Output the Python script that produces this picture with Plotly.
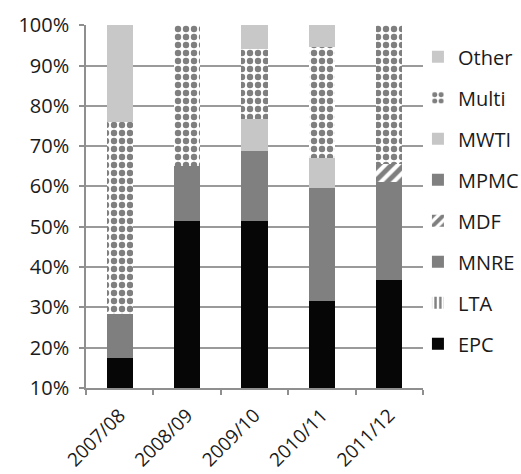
import plotly.graph_objects as go

years = ["2007/08", "2008/09", "2009/10", "2010/11", "2011/12"]
series_names = ["EPC", "LTA", "MNRE", "MDF", "MPMC", "MWTI", "Multi", "Other"]
EPC   = [0.175, 0.514, 0.515, 0.316, 0.368]
LTA   = [0.0, 0.0, 0.0, 0.0, 0.0]
MNRE  = [0.108, 0.137, 0.0, 0.0, 0.243]
MDF   = [0.0, 0.0, 0.0, 0.0, 0.044]
MPMC  = [0.0, 0.0, 0.173, 0.281, 0.0]
MWTI  = [0.0, 0.0, 0.080, 0.074, 0.0]
Multi = [0.476, 0.349, 0.172, 0.275, 0.345]
Other = [0.241, 0.0, 0.060, 0.054, 0.0]
values = [EPC, LTA, MNRE, MDF, MPMC, MWTI, Multi, Other]

styles = {
    "EPC":   dict(color="#050605"),
    "LTA":   dict(color="white", pattern=dict(shape="|", fgcolor="black", bgcolor="white", size=6, solidity=0.5, fillmode="overlay")),
    "MNRE":  dict(color="#7f7f7f"),
    "MDF":   dict(color="white", pattern=dict(shape="/", fgcolor="black", bgcolor="white", size=9, solidity=0.55, fillmode="overlay")),
    "MPMC":  dict(color="#808080"),
    "MWTI":  dict(color="#c5c6c5"),
    "Multi": dict(color="white", pattern=dict(shape=".", fgcolor="black", bgcolor="white", size=8, solidity=0.5, fillmode="overlay")),
    "Other": dict(color="#c8c8c8"),
}

FONT = "Open Sans"
fig = go.Figure()
n = len(series_names)
for i, (name, vals) in enumerate(zip(series_names, values)):
    fig.add_trace(go.Bar(
        x=years, y=vals, name=name, legendgroup=name, legendrank=n - i,
        marker=dict(line=dict(width=0), **styles[name]),
        width=0.39,
    ))

fig.update_layout(
    barmode="stack",
    width=521, height=474,
    margin=dict(l=86, r=98, t=25, b=86, autoexpand=False),
    plot_bgcolor="white", paper_bgcolor="white",
    font=dict(family=FONT, size=20, color="#1a1a1a"),
    showlegend=True,
    legend=dict(
        x=0.985, xanchor="left",
        y=0.966, yanchor="top",
        traceorder="grouped",
        tracegroupgap=12,
        font=dict(family=FONT, size=20, color="#1a1a1a"),
        bgcolor="rgba(0,0,0,0)",
        itemclick=False,
    ),
)
fig.update_xaxes(
    type="category", automargin=False,
    showline=True, linecolor="#8f8f8f", linewidth=1.5,
    ticks="outside", tickson="boundaries", ticklen=5, tickcolor="#8f8f8f", tickwidth=1.5,
    tickangle=-45, showgrid=False, ticklabelstandoff=7,
    tickfont=dict(family=FONT, size=19, color="#1a1a1a"),
)
fig.update_yaxes(
    range=[0.1, 1.0005], dtick=0.1, tick0=0, tickformat=".0%", automargin=False,
    showline=True, linecolor="#8f8f8f", linewidth=1.5,
    ticks="outside", ticklen=5, tickcolor="#8f8f8f", tickwidth=1.5,
    ticklabelstandoff=6,
    showgrid=True, gridcolor="#9a9a9a", gridwidth=1.5,
    zeroline=False,
    tickfont=dict(family=FONT, size=20, color="#1a1a1a"),
)

fig.write_html("out.html")
